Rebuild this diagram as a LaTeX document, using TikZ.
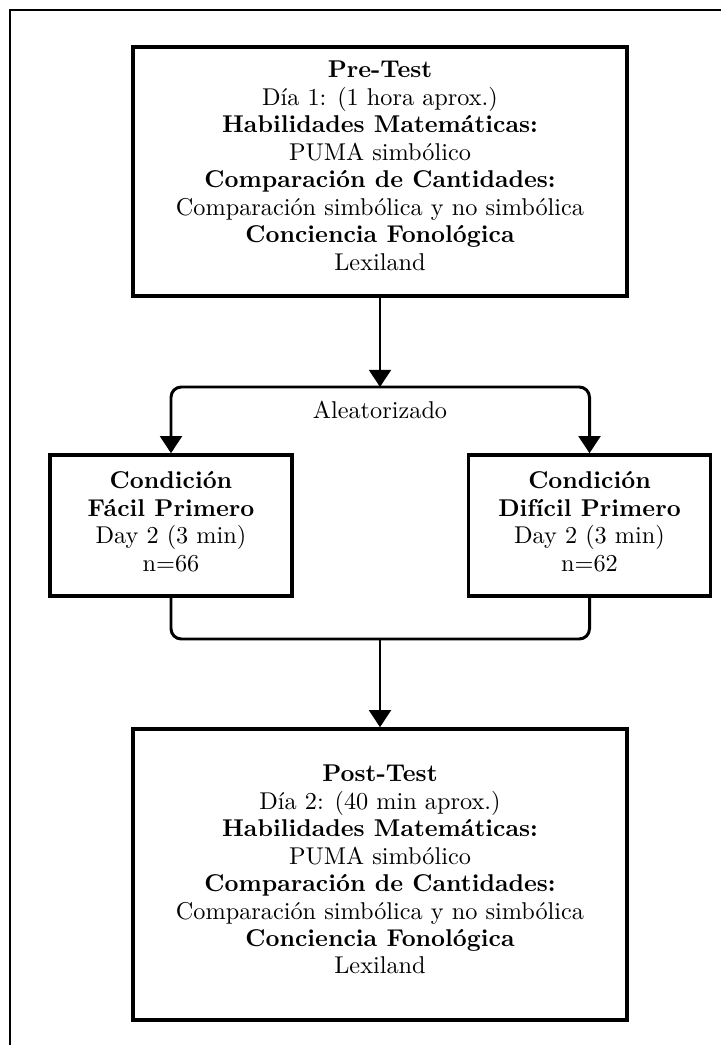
\documentclass[tikz,border=0pt]{standalone}
\usepackage{fontspec}
\usetikzlibrary{arrows.meta}

\newcommand{\bajo}[1]{\rule[-#1]{0pt}{0pt}}

\begin{document}
\begin{tikzpicture}[x=0.4367pt, y=-0.4367pt,
    every node/.style={font=\fontsize{10.6pt}{12pt}\selectfont},
    caja/.style={draw, line width=1.5pt, align=center, inner sep=0pt},
    flecha/.style={line width=1.3pt, -{Triangle[length=7.5pt, width=9.5pt]}},
    linea/.style={line width=1.3pt, rounded corners=4.5pt}]
    \useasboundingbox (0,0) rectangle (721,1045);
    \draw[line width=0.9pt] (721,10) -- (10,10) -- (10,1045); %marco

    %cajas
    \node[caja, minimum width=215.7pt, minimum height=108.7pt] (pre) at (380,171.5) {\textbf{Pre-Test}\\ Día 1: (1 hora aprox.)\\ \textbf{Habilidades Matemáticas:}\\ PUMA simbólico\\ \textbf{Comparación de Cantidades:}\\ Comparación simbólica y no simbólica\\ \textbf{Conciencia Fonológica}\\ Lexiland\bajo{5.2pt}};
    \node[caja, minimum width=105.7pt, minimum height=61.6pt] (facil) at (171,525.5) {\textbf{Condición}\\ \textbf{Fácil Primero}\\ Day 2 (3 min)\\ n=66\bajo{3.5pt}};
    \node[caja, minimum width=105.7pt, minimum height=61.6pt] (dificil) at (589.5,525.5) {\textbf{Condición}\\ \textbf{Difícil Primero}\\ Day 2 (3 min)\\ n=62\bajo{3.5pt}};
    \node[caja, minimum width=215.7pt, minimum height=127.1pt] (post) at (380,874.5) {\textbf{Post-Test}\\ Día 2: (40 min aprox.)\\ \textbf{Habilidades Matemáticas:}\\ PUMA simbólico\\ \textbf{Comparación de Cantidades:}\\ Comparación simbólica y no simbólica\\ \textbf{Conciencia Fonológica}\\ Lexiland\bajo{4.4pt}};
    \node (alea) at (380,410) {Aleatorizado};

    %flechas
    \coordinate (div) at (380,387);
    \coordinate (une) at (380,639);
    \draw[flecha] (pre.south) -- (div);
    \draw[linea, flecha] (div) -| (facil.north);
    \draw[linea, flecha] (div) -| (dificil.north);
    \draw[linea] (facil.south) |- (une) -| (dificil.south);
    \draw[flecha] (une) -- (post.north);
\end{tikzpicture}
\end{document}
